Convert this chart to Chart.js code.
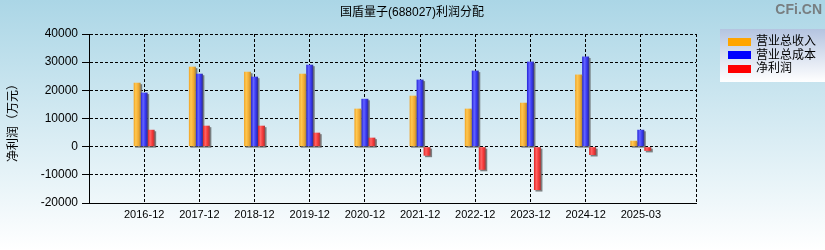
<!DOCTYPE html>
<html><head><meta charset="utf-8">
<script src="https://cdn.jsdelivr.net/npm/chart.js@4.4.0/dist/chart.umd.min.js"></script>
<style>html,body{margin:0;padding:0;overflow:hidden;background:#fff}#wrap{width:825px;height:250px;position:relative}</style>
</head><body><div id="wrap"><canvas id="c" width="825" height="250"></canvas></div>
<script>
const categories = ['2016-12','2017-12','2018-12','2019-12','2020-12','2021-12','2022-12','2023-12','2024-12','2025-03'];
const revenue   = [22700, 28400, 26600, 25900, 13500, 18100, 13500, 15600, 25600, 2100];
const totalCost = [19200, 25900, 24850, 29100, 17000, 23800, 27000, 30200, 32000, 6000];
const netProfit = [6000, 7450, 7450, 4970, 3200, -3200, -8200, -15400, -2950, -1500];
const yTicks = [-20000, -10000, 0, 10000, 20000, 30000, 40000];
const seriesNames = ['营业总收入', '营业总成本', '净利润'];
const seriesColors = ['#FFA500', '#0000FF', '#FF0000'];
const titleText = '国盾量子(688027)利润分配';
const yTitleText = '净利润（万元）';
const watermark = 'CFi.CN';

const gradStops = [
  [[0,'#F0A020'],[0.3,'#FFC850'],[0.7,'#F0A830'],[1,'#A88840']],
  [[0,'#2020D8'],[0.35,'#6464FF'],[0.7,'#3434F0'],[1,'#303088']],
  [[0,'#E02020'],[0.35,'#FF6464'],[0.7,'#F43434'],[1,'#984040']]
];

const labels = [''].concat(categories, ['']);
const pad = arr => [null].concat(arr, [null]);

const cjk = "'Liberation Sans', 'Noto Sans CJK SC', sans-serif";

const decor = {
  id: 'decor',
  beforeDraw(chart) {
    const ctx = chart.ctx;
    const g = ctx.createLinearGradient(0, 0, 0, chart.height);
    g.addColorStop(0, '#ABD6E6');
    g.addColorStop(1, '#FFFFFF');
    ctx.save();
    ctx.fillStyle = g;
    ctx.fillRect(0, 0, chart.width, chart.height);
    ctx.restore();
  },
  beforeDatasetsDraw(chart) {
    const ctx = chart.ctx;
    ctx.save();
    ctx.fillStyle = 'rgba(90,90,90,0.75)';
    chart.data.datasets.forEach((ds, i) => {
      const meta = chart.getDatasetMeta(i);
      meta.data.forEach(el => {
        if (el.skip || el.y == null || isNaN(el.y)) return;
        const p = el.getProps(['x', 'y', 'base', 'width'], true);
        const left = p.x - p.width / 2;
        const top = Math.min(p.y, p.base), bot = Math.max(p.y, p.base);
        ctx.fillRect(left + 1.5, top + 1.5, p.width, bot - top);
        const gr = ctx.createLinearGradient(left, 0, left + p.width, 0);
        gradStops[i].forEach(s => gr.addColorStop(s[0], s[1]));
        el.options = Object.assign({}, el.options, { backgroundColor: gr });
      });
    });
    ctx.restore();
  },
  afterDraw(chart) {
    const ctx = chart.ctx;
    ctx.save();
    // title
    ctx.fillStyle = '#000';
    ctx.font = '12px ' + cjk;
    ctx.textAlign = 'center';
    ctx.textBaseline = 'middle';
    ctx.fillText(titleText, 412, 13);
    // watermark
    ctx.font = 'bold 14px "Liberation Sans", sans-serif';
    ctx.fillStyle = 'rgba(110,110,110,0.85)';
    ctx.textAlign = 'right';
    ctx.fillText(watermark, 822, 10);
    // y title
    ctx.save();
    ctx.translate(14, 120);
    ctx.rotate(-Math.PI / 2);
    ctx.fillStyle = '#000';
    ctx.font = '12px ' + cjk;
    ctx.textAlign = 'center';
    ctx.fillText(yTitleText, 0, 0);
    ctx.restore();
    // legend
    const lg = ctx.createLinearGradient(0, 29, 0, 82);
    lg.addColorStop(0, '#B4C4E0');
    lg.addColorStop(1, '#FFFFFF');
    ctx.fillStyle = lg;
    ctx.fillRect(720, 29, 105, 53);
    ctx.textAlign = 'left';
    ctx.font = '12px ' + cjk;
    seriesNames.forEach((n, i) => {
      const cy = 41.5 + i * 13.8;
      ctx.fillStyle = seriesColors[i];
      ctx.fillRect(728, Math.round(cy - 4), 23, 8);
      ctx.fillStyle = '#000';
      ctx.fillText(n, 756, cy);
    });
    ctx.restore();
  }
};

new Chart(document.getElementById('c'), {
  type: 'bar',
  data: {
    labels: labels,
    datasets: [
      { label: seriesNames[0], data: pad(revenue), backgroundColor: seriesColors[0] },
      { label: seriesNames[1], data: pad(totalCost), backgroundColor: seriesColors[1] },
      { label: seriesNames[2], data: pad(netProfit), backgroundColor: seriesColors[2] }
    ]
  },
  options: {
    responsive: false,
    animation: false,
    devicePixelRatio: 1,
    layout: { padding: { top: 34, right: 129, bottom: 0, left: 0 } },
    datasets: { bar: { categoryPercentage: 0.38, barPercentage: 1.0, borderWidth: 0 } },
    plugins: { legend: { display: false }, title: { display: false }, tooltip: { enabled: false } },
    scales: {
      x: {
        offset: false,
        grid: { offset: false, color: '#000', lineWidth: 1, drawTicks: false },
        border: { color: '#000', width: 1, dash: [3, 2] },
        ticks: { color: '#000', font: { family: 'Liberation Sans', size: 11 }, padding: 5, maxRotation: 0, autoSkip: false },
        afterFit(s) { s.height = 47; }
      },
      y: {
        min: -20000, max: 40000,
        afterBuildTicks(s) { s.ticks = yTicks.map(v => ({ value: v })); },
        grid: { color: '#000', lineWidth: 1, tickLength: 7, tickColor: '#000', tickBorderDash: [] },
        border: { color: '#000', width: 1, dash: [3, 2] },
        ticks: { color: '#000', font: { family: 'Liberation Sans', size: 12 }, padding: 4, callback: v => String(v) },
        afterFit(s) { s.width = 89; }
      }
    }
  },
  plugins: [decor]
});
</script></body></html>
